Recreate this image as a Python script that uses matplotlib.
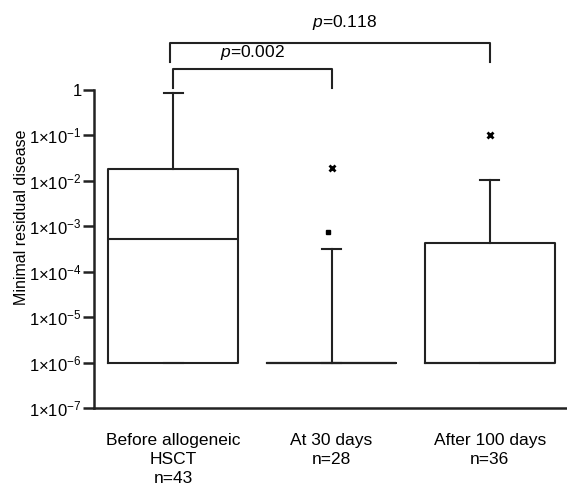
import numpy as np
import matplotlib
matplotlib.use("Agg")
import matplotlib.pyplot as plt

plt.rcParams['font.family'] = ['Liberation Sans Narrow', 'Liberation Sans', 'DejaVu Sans']
plt.rcParams['mathtext.fontset'] = 'custom'
plt.rcParams['mathtext.rm'] = 'Liberation Sans'
plt.rcParams['mathtext.it'] = 'Liberation Sans:italic'

# ----------------------------------------------------------
# Data
# ----------------------------------------------------------
groups = ["Before allogeneic\nHSCT\nn=43", "At 30 days\nn=28", "After 100 days\nn=36"]
q1 = [1e-6, 1e-6, 1e-6]
median = [5.2e-4, 1e-6, 1e-6]
q3 = [1.8e-2, 1e-6, 4.3e-4]
whis_hi = [0.83, 3.2e-4, 1.05e-2]
outlier_circle = [None, 7.6e-4, None]
outlier_cross = [None, 1.95e-2, 0.1]

ytick_vals = [1e-7, 1e-6, 1e-5, 1e-4, 1e-3, 1e-2, 1e-1, 1]
ytick_labels = ["1×10$^{-7}$", "1×10$^{-6}$", "1×10$^{-5}$", "1×10$^{-4}$",
                "1×10$^{-3}$", "1×10$^{-2}$", "1×10$^{-1}$", "1"]

comparisons = [(1, 2, "0.002"), (1, 3, "0.118")]

# ----------------------------------------------------------
# Plot
# ----------------------------------------------------------
ink = "#222222"
fig = plt.figure(figsize=(5.67, 4.88), dpi=100)
ax = fig.add_axes([0.166, 0.164, 0.832, 0.652])

stats = []
for i in range(3):
    stats.append({
        "q1": q1[i], "med": median[i], "q3": q3[i],
        "whislo": q1[i], "whishi": whis_hi[i], "fliers": [],
    })

positions = [1, 2, 3]
ax.bxp(stats, positions=positions, widths=0.82, showfliers=False,
       boxprops=dict(color=ink, linewidth=1.5),
       medianprops=dict(color=ink, linewidth=1.5),
       whiskerprops=dict(color=ink, linewidth=1.5),
       capprops=dict(color=ink, linewidth=1.5),
       capwidths=0.12)

for i, pos in enumerate(positions):
    if outlier_circle[i] is not None:
        ax.plot(pos - 0.02, outlier_circle[i], "s", color="black", markersize=3.5)
    if outlier_cross[i] is not None:
        ax.plot(pos, outlier_cross[i], "x", color="black", markersize=4.5,
                markeredgewidth=2)

ax.set_yscale("log")
ax.set_ylim(1e-7, 1)
ax.set_xlim(0.5, 3.48)
ax.set_yticks(ytick_vals)
ax.set_yticklabels(ytick_labels, fontsize=12)
ax.yaxis.set_minor_locator(matplotlib.ticker.NullLocator())
ax.tick_params(axis="y", length=8, width=1.8, color=ink, pad=1)
ax.set_xticks(positions)
ax.set_xticklabels(groups, fontsize=12.5, linespacing=1.35)
ax.tick_params(axis="x", length=0, pad=18)
ax.set_ylabel("Minimal residual disease", fontsize=11.5)
ax.yaxis.set_label_coords(-0.138, 0.6)

for side in ["top", "right"]:
    ax.spines[side].set_visible(False)
for side in ["left", "bottom"]:
    ax.spines[side].set_linewidth(1.8)
    ax.spines[side].set_color(ink)

# significance brackets (heights in decades above the axis top)
bracket_heights = [(0.45, 0.03), (1.04, 0.62)]
text_x = [1.5, 2.08]
text_offsets = [0.36, 0.45]
for (a, b, p), (top, leg), tx, off in zip(comparisons, bracket_heights, text_x, text_offsets):
    xa = a + (0.0 if b == 2 else -0.02)
    yt = 10 ** top
    yl = 10 ** leg
    ax.plot([xa, xa, b, b], [yl, yt, yt, yl], color=ink, linewidth=1.5,
            clip_on=False)
    ax.text(tx, 10 ** (top + off), "$\\it{p}$=" + p,
            ha="center", va="center", fontsize=12.5)

fig.savefig("out.png", dpi=100)
